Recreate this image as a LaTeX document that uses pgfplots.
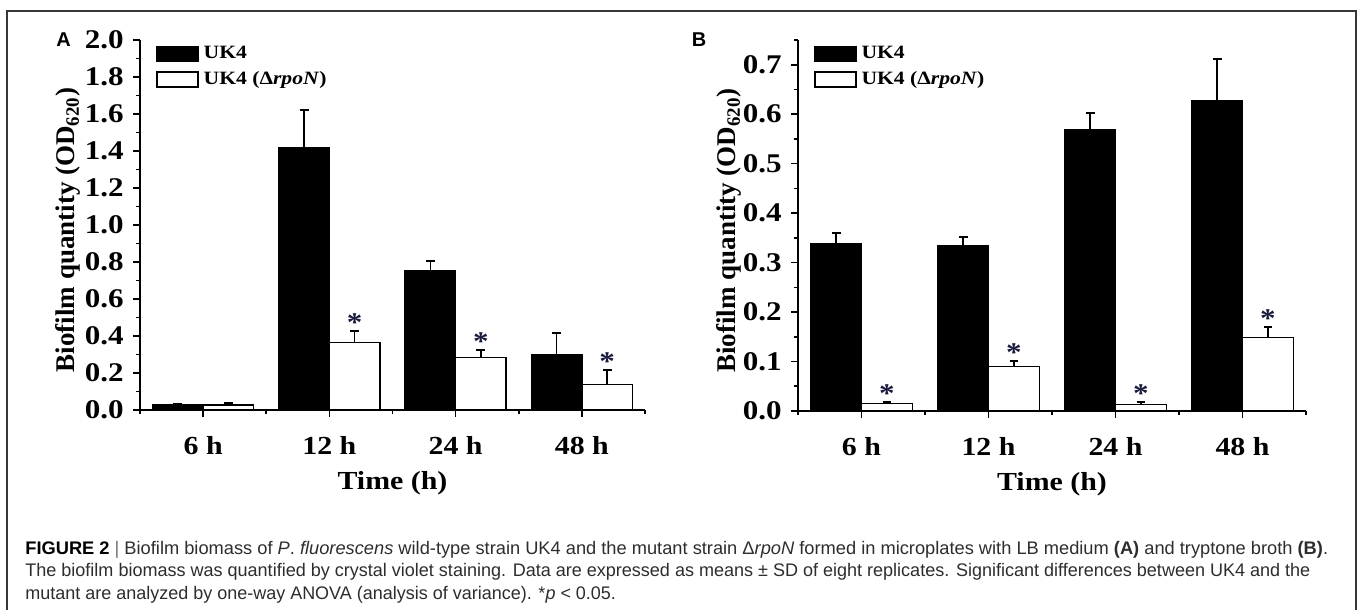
\documentclass[border=0pt]{standalone}
\usepackage{fontspec}
\setmainfont{Liberation Serif}
\newfontfamily\tnr[FakeStretch=1.15]{Liberation Serif}
\newfontfamily\arl{Liberation Sans}
\usepackage{graphicx}
\usepackage{pgfplots}
\pgfplotsset{compat=1.18}
\definecolor{starc}{RGB}{25,25,60}
\definecolor{framec}{RGB}{55,55,55}
\definecolor{capc}{RGB}{45,45,45}

% x: bar centre (category 1..4, black bar left, white bar right)
\pgfplotstableread{
x    y      e
0.8  0.027  0.006
1.8  1.418  0.205
2.8  0.750  0.057
3.8  0.299  0.119
}\Ablack
\pgfplotstableread{
x    y      e
1.2  0.028  0.008
2.2  0.366  0.059
3.2  0.283  0.041
4.2  0.139  0.076
}\Awhite
\pgfplotstableread{
x    y      e
0.8  0.3375 0.022
1.8  0.334  0.017
2.8  0.569  0.034
3.8  0.628  0.083
}\Bblack
\pgfplotstableread{
x    y      e
1.2  0.0155 0.003
2.2  0.090  0.011
3.2  0.0135 0.004
4.2  0.149  0.020
}\Bwhite

\pgfplotsset{
  biof/.style={
    scale only axis,
    clip=false,
    xmin=0.5, xmax=4.5, ymin=0,
    axis x line*=bottom, axis y line*=left,
    axis line style={line width=1pt, -},
    tick align=outside,
    every tick/.style={black, line width=0.8pt},
    major tick length=3.5pt, minor tick length=2pt,
    xtick={1,2,3,4}, xticklabels={6 h,12 h,24 h,48 h},
    minor xtick={0.5,1.5,2.5,3.5,4.5},
    /pgf/number format/assume math mode=true,
    /pgf/number format/fixed,
    /pgf/number format/fixed zerofill,
    /pgf/number format/precision=1,
    yticklabel style={font=\tnr\bfseries\fontsize{13.5}{13.5}\selectfont, anchor=east, inner sep=0pt, xshift=-4.5pt},
    xticklabel style={font=\tnr\bfseries\fontsize{13}{13}\selectfont, anchor=base, inner sep=0pt, yshift=-19pt},
    xlabel={Time (h)},
    ylabel={Biofilm quantity (OD\textsubscript{620})},
    xlabel style={font=\tnr\bfseries\fontsize{13}{13}\selectfont, at={(axis description cs:0.5,0)}, anchor=base, inner sep=0pt, yshift=-40pt},
    ylabel style={font=\bfseries\fontsize{13.5}{13.5}\selectfont, inner sep=0pt, anchor=center},
    legend style={draw=none, fill=none, anchor=north west, inner sep=0pt, outer sep=0pt,
      font=\tnr\bfseries\fontsize{9.4}{9.4}\selectfont, row sep=4.5pt,
      nodes={inner sep=0pt, outer sep=0pt},
      /tikz/every odd column/.append style={column sep=2.5pt}},
    legend cell align=left,
  },
  barstyle/.style={ybar, bar width=0.4, bar shift=0pt, line width=0.75pt, draw=black,
    error bars/.cd, y dir=plus, y explicit,
    error bar style={line width=0.75pt, black},
    error mark options={rotate=90, line width=0.9pt, mark size=2.2pt, black},
    /pgfplots/.cd,
    legend image code/.code={\draw[#1, line width=0.75pt] (0pt,-3.8pt) rectangle (20.5pt,3.8pt);}},
  starstyle/.style={forget plot, only marks, mark=*, mark options={draw=none, fill=none}, mark size=0pt,
    nodes near coords={*},
    every node near coord/.append style={font=\tnr\bfseries\fontsize{13.5}{13.5}\selectfont, text=starc, anchor=base, inner sep=0pt, yshift=-0.3pt}},
}

\begin{document}
\begin{tikzpicture}
\useasboundingbox (0,0) rectangle (678.5pt,305pt);
\draw[framec, line width=0.75pt] (3.5pt,0) -- (3.5pt,299.5pt) -- (678pt,299.5pt) -- (678pt,0);

% Panel A
\begin{axis}[biof,
  at={(70pt,100pt)}, anchor=south west,
  width=252.5pt, height=185pt,
  ymax=2.0,
  ytick={0,0.2,0.4,0.6,0.8,1.0,1.2,1.4,1.6,1.8,2.0},
  minor ytick={0.1,0.3,0.5,0.7,0.9,1.1,1.3,1.5,1.7,1.9},
  ylabel style={at={([xshift=-36pt,yshift=-2.5pt]axis description cs:0,0.5)}},
  legend style={at={(axis description cs:0.032,0.985)}},
]
\addplot[barstyle, fill=black] table[x=x, y=y, y error=e] {\Ablack};
\addlegendentry{UK4}
\addplot[barstyle, fill=white] table[x=x, y=y, y error=e] {\Awhite};
\addlegendentry{UK4 (Δ\textit{rpoN})}
\addplot[starstyle] coordinates {(2.2,0.425) (3.2,0.324) (4.2,0.215)};
\end{axis}

% Panel B
\begin{axis}[biof,
  at={(399pt,99.5pt)}, anchor=south west,
  width=254pt, height=185.5pt,
  ymax=0.75,
  ytick={0,0.1,0.2,0.3,0.4,0.5,0.6,0.7},
  minor ytick={0.05,0.15,0.25,0.35,0.45,0.55,0.65,0.75},
  ylabel style={at={([xshift=-34.5pt,yshift=-2.5pt]axis description cs:0,0.5)}},
  legend style={at={(axis description cs:0.0315,0.985)}},
]
\addplot[barstyle, fill=black] table[x=x, y=y, y error=e] {\Bblack};
\addlegendentry{UK4}
\addplot[barstyle, fill=white] table[x=x, y=y, y error=e] {\Bwhite};
\addlegendentry{UK4 (Δ\textit{rpoN})}
\addplot[starstyle] coordinates {(1.2,0.0185) (2.2,0.101) (3.2,0.0175) (4.2,0.169)};
\end{axis}

\node[font=\arl\bfseries\fontsize{10}{10}\selectfont, inner sep=0pt] at (31.75pt,285pt) {A};
\node[font=\arl\bfseries\fontsize{10}{10}\selectfont, inner sep=0pt] at (349.5pt,285pt) {B};

% caption
\node[anchor=base west, inner sep=0pt, text=capc, font=\arl\fontsize{9.1}{10}\selectfont] at (12.5pt,27.75pt)
  {\resizebox{651.3pt}{\height}{\textcolor{black}{\bfseries FIGURE 2} \textcolor{black!55}{|} Biofilm biomass of \textit{P}. \textit{fluorescens} wild-type strain UK4 and the mutant strain Δ\textit{rpoN} formed in microplates with LB medium \textbf{(A)} and tryptone broth \textbf{(B)}.}};
\node[anchor=base west, inner sep=0pt, text=capc, font=\arl\fontsize{9.1}{10}\selectfont] at (12.5pt,16.5pt)
  {\resizebox{642.5pt}{\height}{The biofilm biomass was quantified by crystal violet staining. Data are expressed as means ± SD of eight replicates. Significant differences between UK4 and the}};
\node[anchor=base west, inner sep=0pt, text=capc, font=\arl\fontsize{9.1}{10}\selectfont] at (12.5pt,5.25pt)
  {\resizebox{295.3pt}{\height}{mutant are analyzed by one-way ANOVA (analysis of variance). *\textit{p} < 0.05.}};
\end{tikzpicture}
\end{document}
